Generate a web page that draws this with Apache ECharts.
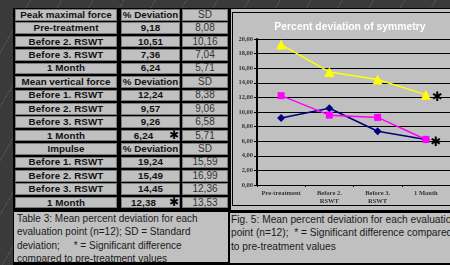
<!DOCTYPE html>
<html>
<head>
<meta charset="utf-8">
<script src="https://cdn.jsdelivr.net/npm/echarts@6/dist/echarts.min.js"></script>
<style>
  html, body { margin: 0; padding: 0; }
  body {
    width: 450px; height: 265px; overflow: hidden; position: relative;
    background: #3a3a3a repeating-linear-gradient(120deg, transparent 0 26px, rgba(255,255,255,0.10) 26px 27px);
    font-family: 'Liberation Sans', Arial, sans-serif;
  }
  .abs { position: absolute; box-sizing: border-box; }
  .cell {
    position: absolute; box-sizing: border-box;
    background: #c0c0c0; border: 1px solid #7a7a7a;
    font-size: 9.8px; line-height: 10px; letter-spacing: 0.1px;
    display: flex; align-items: center; justify-content: center;
    color: #111; font-weight: bold; white-space: nowrap;
  }
  .cell.head { letter-spacing: 0; }
  .cell.sd { font-weight: normal; color: #333; letter-spacing: 0; font-size: 10px; }
  .star { position: absolute; font-size: 12px; color: #000; font-family: 'DejaVu Sans', sans-serif; }
  .caption {
    position: absolute; box-sizing: border-box; background: #c0c0c0;
    font-size: 10px; line-height: 13.3px; color: #1a1a1a; white-space: nowrap; overflow: hidden;
  }
  #chart { position: absolute; left: 0; top: 0; width: 450px; height: 265px; z-index: 2; }
</style>
</head>
<body>
<div class="abs" style="left:13px;top:8px;width:437px;height:257px;background:#000"></div>
<div class="abs" style="left:231px;top:9px;width:219px;height:201px;background:#c0c0c0"></div>
<div class="abs" style="left:232px;top:12px;width:230px;height:194px;border:1px solid #000"></div>
<div id="table"></div>
<div class="caption" style="left:14px;top:212px;width:214px;height:50px;padding:0 0 0 3px">
  Table 3: Mean percent deviation for each<br>evaluation point (n=12); SD = Standard<br>deviation;&nbsp;&nbsp;&nbsp;&nbsp; * = Significant difference<br>compared to pre-treatment values
</div>
<div class="caption" style="left:230px;top:213px;width:220px;height:50px;padding:0 0 0 1px;font-size:10.2px">
  Fig. 5: Mean percent deviation for each evaluation<br>point (n=12);&nbsp; * = Significant difference compared<br>to pre-treatment values
</div>
<div id="chart"></div>
<script>
const groups = ['Peak maximal force', 'Mean vertical force', 'Impulse']
const rowLabels = [
  ['Pre-treatment', 'Before 2. RSWT', 'Before 3. RSWT', '1 Month'],
  ['Before 1. RSWT', 'Before 2. RSWT', 'Before 3. RSWT', '1 Month'],
  ['Before 1. RSWT', 'Before 2. RSWT', 'Before 3. RSWT', '1 Month'],
]
const peakDev = [9.18, 10.51, 7.36, 6.24]
const peakSD = [8.08, 10.16, 7.04, 5.71]
const meanDev = [12.24, 9.57, 9.26, 6.24]
const meanSD = [8.38, 9.06, 6.58, 5.71]
const impulseDev = [19.24, 15.49, 14.45, 12.38]
const impulseSD = [15.59, 16.99, 12.36, 13.53]
const significant = [[false, false, false, false], [false, false, false, true], [false, false, false, true]]

const categories = ['Pre-treatment', 'Before 2.\nRSWT', 'Before 3.\nRSWT', '1 Month']
const yTicks = [0, 2, 4, 6, 8, 10, 12, 14, 16, 18, 20]

const fmt = (v) => v.toFixed(2).replace('.', ',')

// table
const devs = [peakDev, meanDev, impulseDev]
const sds = [peakSD, meanSD, impulseSD]
const cols = [[15, 102], [121, 59], [182, 46]]
const table = document.getElementById('table')
let row = 0
const addCell = (col, top, text, cls) => {
  const el = document.createElement('div')
  el.className = 'cell' + (cls ? ' ' + cls : '')
  el.style.left = cols[col][0] + 'px'
  el.style.width = cols[col][1] + 'px'
  el.style.top = top + 'px'
  el.style.height = '11.6px'
  el.textContent = text
  table.appendChild(el)
  return el
}
groups.forEach((name, g) => {
  let top = 9 + row * 13.42
  addCell(0, top, name, 'head')
  addCell(1, top, '% Deviation', 'head')
  addCell(2, top, 'SD', 'sd')
  row++
  rowLabels[g].forEach((label, i) => {
    top = 9 + row * 13.42
    addCell(0, top, label)
    const c = addCell(1, top, fmt(devs[g][i]))
    if (significant[g][i]) {
      c.style.paddingRight = '14px'
      const s = document.createElement('span')
      s.className = 'star'
      s.textContent = '✱'
      s.style.left = (168 - cols[1][0]) + 'px'
      s.style.top = '-1px'
      c.appendChild(s)
    }
    addCell(2, top, fmt(sds[g][i]), 'sd')
    row++
  })
})

// chart
const chart = echarts.init(document.getElementById('chart'))
const starLabel = {
  show: true,
  position: 'right',
  distance: 1,
  offset: [0, 3],
  formatter: '✱',
  fontSize: 13,
  color: '#000',
  fontFamily: 'DejaVu Sans',
}
const withStars = (values, flags) =>
  values.map((v, i) => (flags[i] ? { value: v, label: starLabel } : v))

chart.setOption({
  animation: false,
  title: {
    text: 'Percent deviation of symmetry',
    left: 345,
    top: 17,
    textAlign: 'center',
    textStyle: { color: '#fff', fontSize: 10.4, fontWeight: 'bold', fontFamily: 'Liberation Sans' },
  },
  grid: { left: 257, top: 39, width: 199, height: 146 },
  xAxis: {
    type: 'category',
    data: categories,
    boundaryGap: true,
    axisLine: { lineStyle: { color: '#000', width: 1 } },
    axisTick: { show: true, length: 2, lineStyle: { color: '#000' } },
    axisLabel: {
      color: '#333', fontSize: 6.5, fontWeight: 'bold', fontFamily: 'Liberation Serif',
      lineHeight: 8.5, margin: 4, interval: 0,
    },
  },
  yAxis: {
    type: 'value',
    min: yTicks[0],
    max: yTicks[yTicks.length - 1],
    interval: 2,
    axisLine: { show: true, lineStyle: { color: '#000', width: 2 } },
    axisTick: { show: true, length: 3, lineStyle: { color: '#000' } },
    axisLabel: {
      color: '#333', fontSize: 6.5, fontWeight: 'bold', fontFamily: 'Liberation Serif', margin: 4,
      formatter: (v) => fmt(v),
    },
    splitLine: { lineStyle: { color: '#000', width: 1 } },
  },
  series: [
    {
      name: groups[0], type: 'line', data: peakDev,
      symbol: 'diamond', symbolSize: 8,
      lineStyle: { color: '#000080', width: 1.5 }, itemStyle: { color: '#000080' },
    },
    {
      name: groups[1], type: 'line', data: withStars(meanDev, significant[1]),
      symbol: 'rect', symbolSize: 7,
      lineStyle: { color: '#ff00ff', width: 1.5 }, itemStyle: { color: '#ff00ff' },
    },
    {
      name: groups[2], type: 'line', data: withStars(impulseDev, significant[2]),
      symbol: 'triangle', symbolSize: 10,
      lineStyle: { color: '#ffff00', width: 1.5 }, itemStyle: { color: '#ffff00' },
    },
  ],
})
</script>
</body>
</html>
